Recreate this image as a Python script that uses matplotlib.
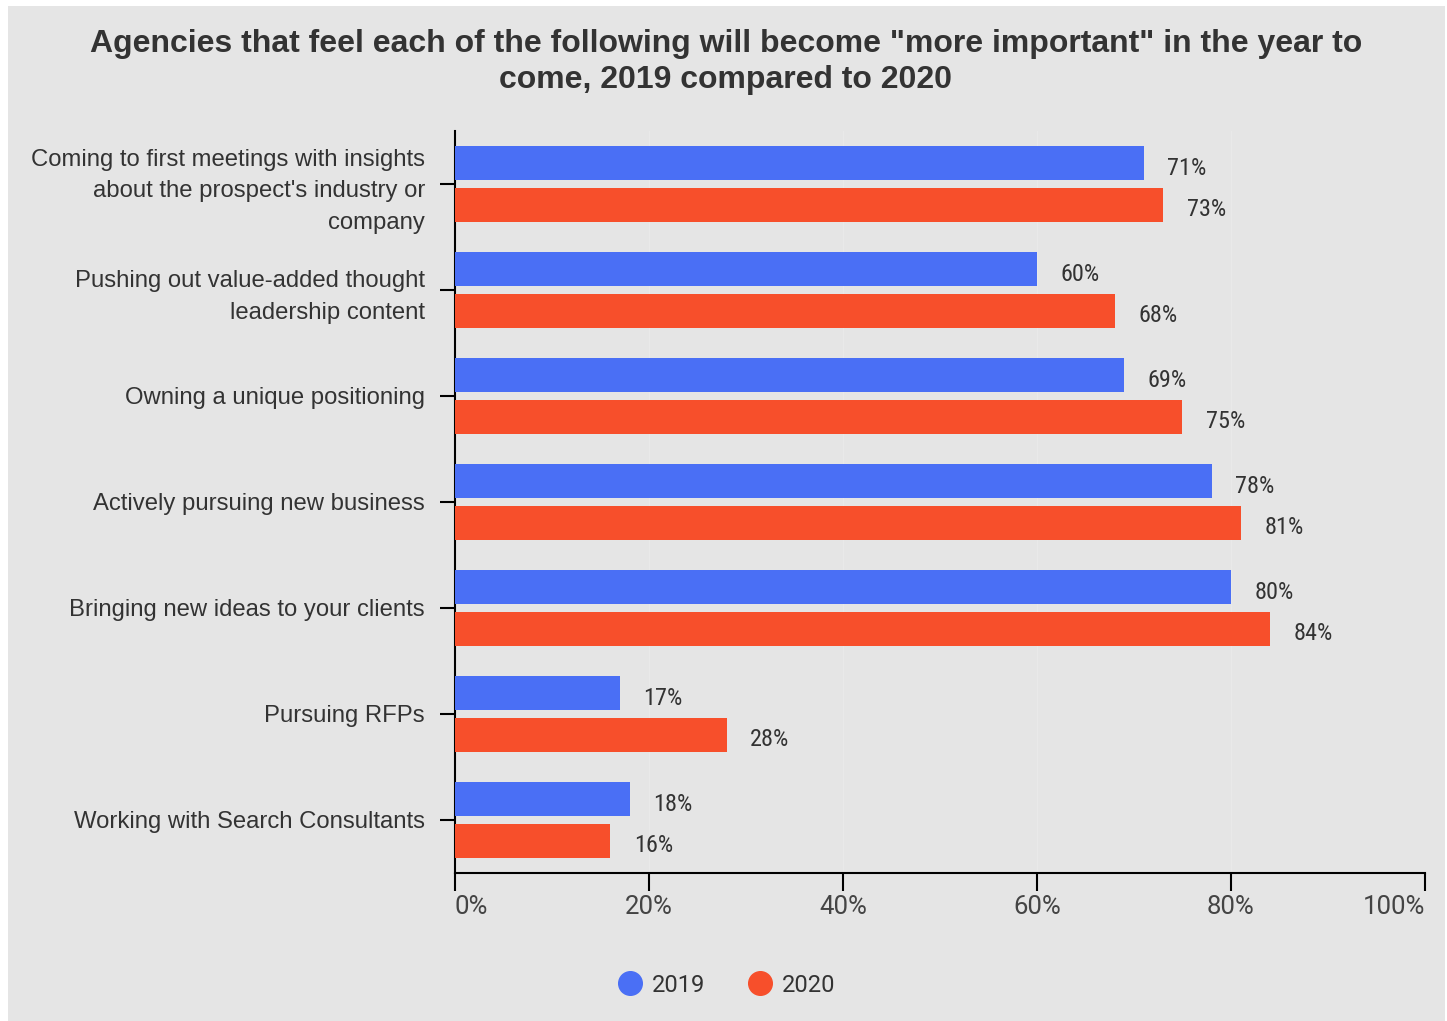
import matplotlib
matplotlib.use("Agg")
import matplotlib.pyplot as plt
from matplotlib.lines import Line2D
from matplotlib.patches import Rectangle
import numpy as np

# ------------------------------------------------------------
# data
# ------------------------------------------------------------
categories = [
    "Coming to first meetings with insights\nabout the prospect's industry or\ncompany",
    "Pushing out value-added thought\nleadership content",
    "Owning a unique positioning",
    "Actively pursuing new business",
    "Bringing new ideas to your clients",
    "Pursuing RFPs",
    "Working with Search Consultants",
]
pct_2019 = [71, 60, 69, 78, 80, 17, 18]
pct_2020 = [73, 68, 75, 81, 84, 28, 16]
series_names = ["2019", "2020"]
x_ticks = [0, 20, 40, 60, 80, 100]
x_tick_labels = ["0%", "20%", "40%", "60%", "80%", "100%"]

BG = "#e5e5e5"
BLUE = "#4a6ff5"
ORANGE = "#f74f2b"
TEXT = "#333333"

# ------------------------------------------------------------
# figure
# ------------------------------------------------------------
fig = plt.figure(figsize=(14.47, 10.21), dpi=100)
fig.patch.set_facecolor("white")
fig.patches.append(Rectangle((8 / 1447, 0), 1437 / 1447, 1015 / 1021,
                             transform=fig.transFigure, facecolor=BG,
                             edgecolor="none", zorder=-10))

ax = fig.add_axes([0.3144, 0.145, 0.6704, 0.7267])
ax.set_facecolor(BG)

y = np.arange(len(categories))
h = 0.32
off = 0.195
ax.barh(y - off, pct_2019, height=h, color=BLUE, zorder=3)
ax.barh(y + off, pct_2020, height=h, color=ORANGE, zorder=3)

# value labels, sitting a touch below the bar centre
label_font = ["Roboto Condensed", "Roboto", "DejaVu Sans"]
for yi, v in zip(y - off, pct_2019):
    ax.annotate(f"{v}%", (v, yi), xytext=(17, -3.5), textcoords="offset points",
                ha="left", va="center", fontsize=17.5, color=TEXT, family=label_font)
for yi, v in zip(y + off, pct_2020):
    ax.annotate(f"{v}%", (v, yi), xytext=(17, -3.5), textcoords="offset points",
                ha="left", va="center", fontsize=17.5, color=TEXT, family=label_font)

ax.set_xlim(0, 100)
ax.set_ylim(len(categories) - 0.5, -0.5)

ax.set_yticks(y)
ax.set_yticklabels(categories, fontsize=17.2, color=TEXT,
                   family=["Liberation Sans", "DejaVu Sans"], linespacing=1.55)
ax.set_xticks(x_ticks)
ax.set_xticklabels(x_tick_labels, fontsize=18.5, color="#444444",
                   family=["Roboto", "DejaVu Sans"])
labels = ax.get_xticklabels()
labels[0].set_ha("left")
labels[-1].set_ha("right")

ax.tick_params(axis="y", length=11, width=1.5, pad=10.5, color="black")
ax.tick_params(axis="x", length=13, width=1.5, pad=3, color="black")

for s in ["top", "right"]:
    ax.spines[s].set_visible(False)
for s in ["left", "bottom"]:
    ax.spines[s].set_linewidth(1.5)
    ax.spines[s].set_color("black")

ax.grid(axis="x", color="#e9e9e9", linewidth=1, zorder=0)
ax.set_axisbelow(True)

fig.text(0.5017, 1 - 62 / 1021,
         "Agencies that feel each of the following will become \"more important\" in the year to\ncome, 2019 compared to 2020",
         ha="center", va="center", fontsize=23, fontweight="bold", color=TEXT,
         family=["Liberation Sans", "DejaVu Sans"], linespacing=1.3)

handles = [
    Line2D([], [], marker="o", linestyle="none", markersize=17,
           markerfacecolor=BLUE, markeredgecolor=BLUE),
    Line2D([], [], marker="o", linestyle="none", markersize=17,
           markerfacecolor=ORANGE, markeredgecolor=ORANGE),
]
fig.legend(handles, series_names, loc="center", bbox_to_anchor=(0.4983, 1 - 985 / 1021),
           ncol=2, frameon=False, handletextpad=-0.05, columnspacing=1.3,
           prop={"family": ["Roboto", "DejaVu Sans"], "size": 17},
           labelcolor=TEXT)

plt.savefig("out.png", dpi=100, facecolor="white")
